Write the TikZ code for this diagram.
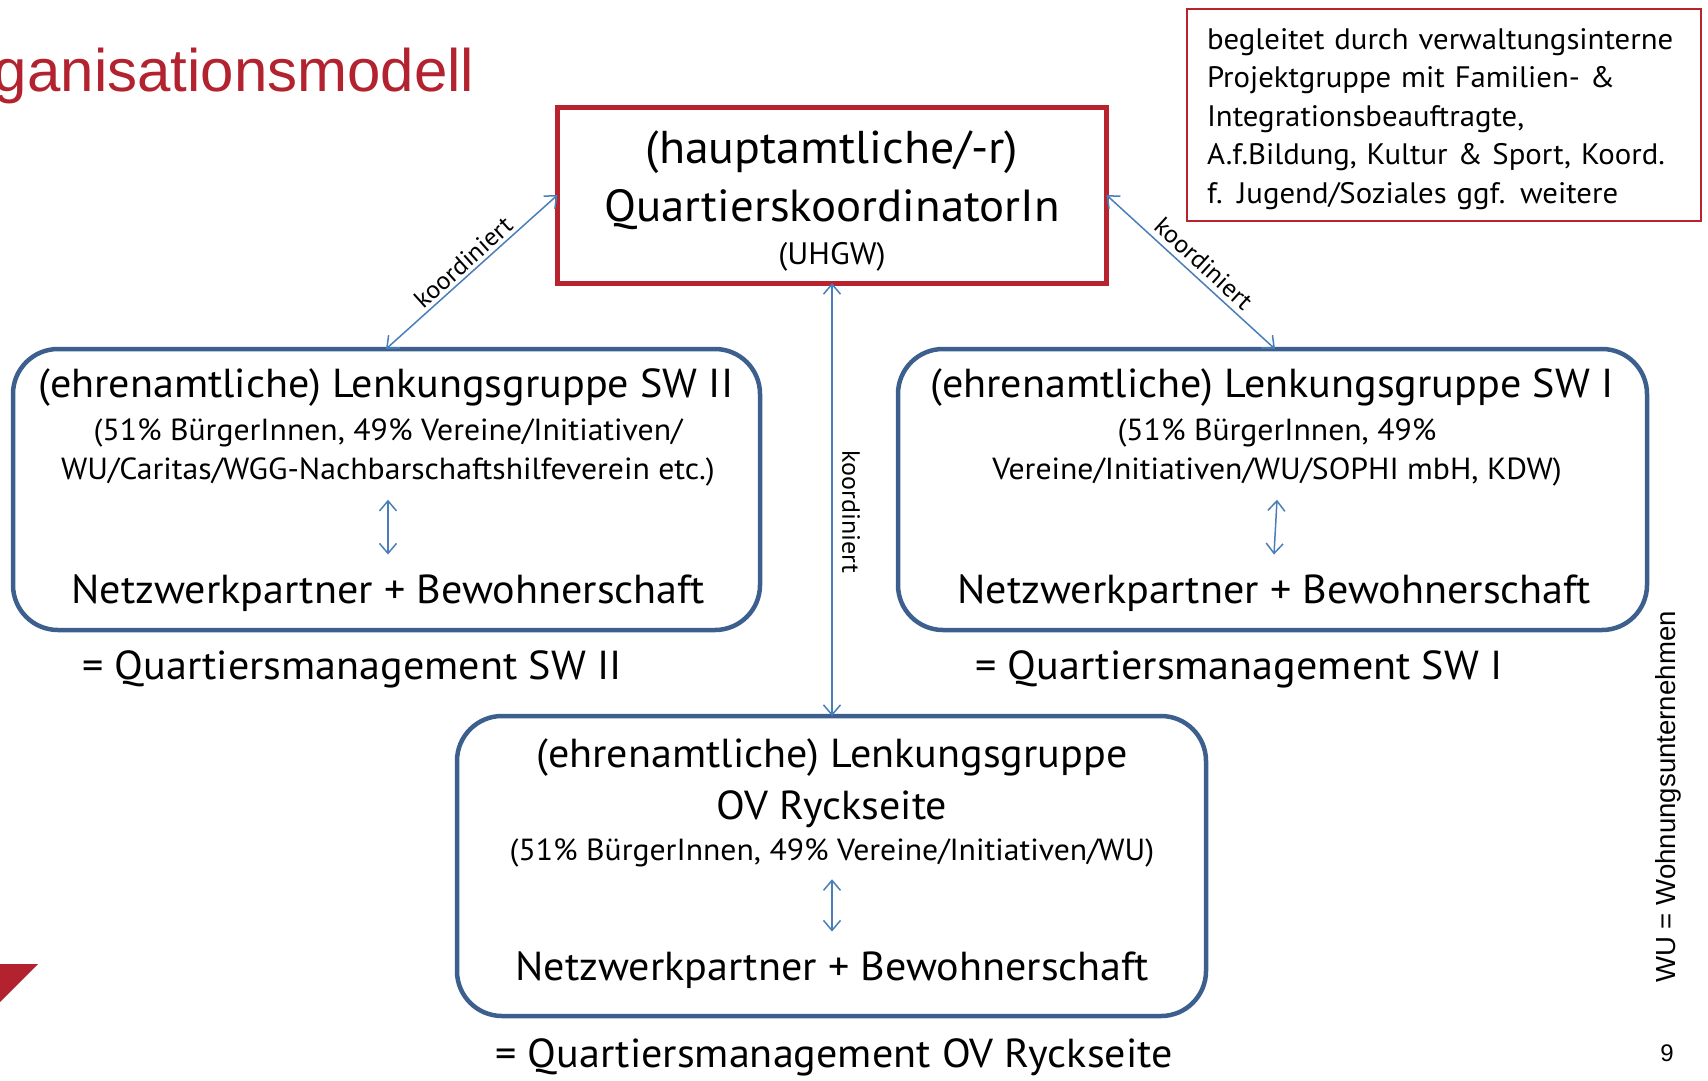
\documentclass[tikz,border=0pt]{standalone}
\usepackage{fontspec}
\setmainfont[FakeStretch=1.04]{PT Sans}
\newfontfamily\arialfont{Liberation Sans}
\usepackage{tikz}
\usetikzlibrary{arrows.meta}

\begin{document}
\begin{tikzpicture}[x=1pt, y=-1pt,
    %Option for open arrows
    >={Straight Barb[length=10pt,width=17pt]}, %
    inner sep=0pt, outer sep=0pt,%
    koordbox/.style={draw=boxred, line width=5pt, minimum width=549pt, minimum height=176pt},
    lenkbox/.style={draw=boxblue, line width=4.5pt, rounded corners=45pt},
    link/.style={color=arrowblue,<->,line width=1.5pt},
    big/.style={font=\fontsize{40.5}{48}\selectfont},
    small/.style={font=\fontsize{30.5}{39}\selectfont, align=center},
    label/.style={text=black, font=\fontsize{25}{30}\selectfont},
]
    % Colors
    \definecolor{titlered}{RGB}{178,35,47}
    \definecolor{boxred}{RGB}{184,35,46}
    \definecolor{boxblue}{RGB}{60,95,141}
    \definecolor{arrowblue}{RGB}{74,126,187}

    % Frame
    \useasboundingbox (0,0) rectangle (1708,1080);
    \node[anchor=west, text=titlered, font=\arialfont\fontsize{60}{70}\selectfont] (title) at (-6,76) {ganisationsmodell};
    \fill[titlered] (0,964) -- (38,964) -- (0,1002) -- cycle;

    % Quartierskoordinator (top)
    \node[koordbox] (koord) at (832,195) {};
    \node[font=\fontsize{46}{54}\selectfont] (koordA) at (832,152) {(hauptamtliche/-r)};
    \node[font=\fontsize{45}{54}\selectfont] (koordB) at (832,210) {QuartierskoordinatorIn};
    \node[font=\fontsize{31}{36}\selectfont] (koordC) at (832,257) {(UHGW)};

    % Projektgruppe
    \node[draw=boxred, line width=1.5pt, minimum width=514pt, minimum height=212pt] (proj) at (1444,115) {};
    \node[text width=474pt, align=left, font=\fontsize{29.6}{38.5}\selectfont] (projtext) at (1444,119)
        {begleitet durch verwaltungsinterne\\ Projektgruppe mit Familien- \&\\ Integrationsbeauftragte,\\
         A.f.Bildung, Kultur \& Sport, Koord.\\ f. Jugend/Soziales ggf. weitere};

    % Lenkungsgruppe SW II
    \draw[lenkbox] (13,349) rectangle (760,630);
    \coordinate (sw2) at (386,349);
    \node[big] (sw2title) at (386,388) {(ehrenamtliche) Lenkungsgruppe SW II};
    \node[small] (sw2info) at (388,452) {(51\% BürgerInnen, 49\% Vereine/Initiativen/\\WU/Caritas/WGG-Nachbarschaftshilfeverein etc.)};
    \node[big] (sw2net) at (388,593) {Netzwerkpartner + Bewohnerschaft};
    \draw[link] ([yshift=-14pt]sw2info.south) -- ([yshift=20pt]sw2net.north);
    \node[big] (sw2qm) at (352,669) {= Quartiersmanagement SW II};

    % Lenkungsgruppe SW I
    \draw[lenkbox] (898,349) rectangle (1647,630);
    \coordinate (sw1) at (1275,349);
    \node[big] (sw1title) at (1272,388) {(ehrenamtliche) Lenkungsgruppe SW I};
    \node[small] (sw1info) at (1277,452) {(51\% BürgerInnen, 49\%\\Vereine/Initiativen/WU/SOPHI mbH, KDW)};
    \node[big] (sw1net) at (1274,593) {Netzwerkpartner + Bewohnerschaft};
    \draw[link] ([yshift=-14pt]sw1info.south) -- ([yshift=20pt]sw1net.north);
    \node[big] (sw1qm) at (1239,669) {= Quartiersmanagement SW I};

    % Lenkungsgruppe OV Ryckseite
    \draw[lenkbox] (457,716) rectangle (1206,1016);
    \coordinate (ov) at (832,716);
    \node[big] (ovtitle) at (832,758) {(ehrenamtliche) Lenkungsgruppe};
    \node[big] (ovname) at (832,809) {OV Ryckseite};
    \node[small] (ovinfo) at (832,853) {(51\% BürgerInnen, 49\% Vereine/Initiativen/WU)};
    \node[big] (ovnet) at (832,970) {Netzwerkpartner + Bewohnerschaft};
    \draw[link] ([yshift=-12pt]ovinfo.south) -- ([yshift=20pt]ovnet.north);
    \node[big] (ovqm) at (834,1057) {= Quartiersmanagement OV Ryckseite};

    % koordiniert
    \draw[link] (koord.west) -- node[label, above, sloped, yshift=4pt] {koordiniert} (sw2);
    \draw[link] (koord.east) -- node[label, above, sloped, yshift=6pt, xshift=4pt] {koordiniert} (sw1);
    \draw[link] (koord.south) -- (ov);
    \node[label, rotate=-90] (koordlab) at (851,512) {koordiniert};

    % Footnote
    \node[rotate=90, font=\arialfont\fontsize{27.6}{32}\selectfont] (wu) at (1668,797) {WU = Wohnungsunternehmen};
    \node[font=\arialfont\fontsize{24}{28}\selectfont] (page) at (1667,1053) {9};
\end{tikzpicture}
\end{document}
